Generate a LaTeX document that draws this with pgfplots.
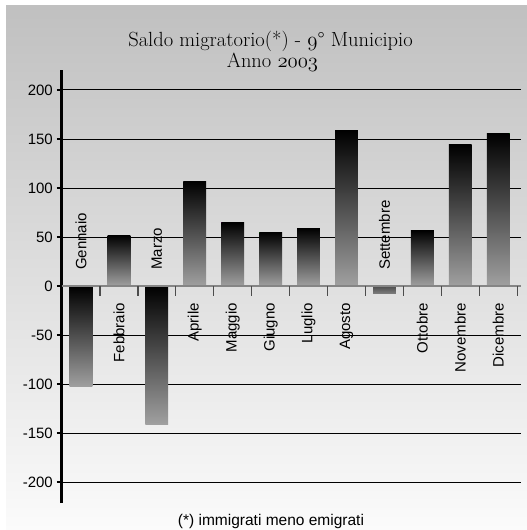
\documentclass[border=0pt]{standalone}
\usepackage{fontspec}
\usepackage{pgfplots}
\pgfplotsset{compat=1.18}
\newfontfamily\lab{Liberation Sans}
% old-style figures for the title (Georgia-like look)
\newcommand\osf[1]{{\fontencoding{OML}\fontfamily{cmm}\fontseries{m}\fontshape{it}\selectfont #1}}
\definecolor{bgtop}{HTML}{C0C0C0}
\definecolor{bgbot}{HTML}{FBFBFB}
\definecolor{barbot}{HTML}{A0A0A0}
\definecolor{zeroline}{HTML}{858585}
\newcommand\labfont{\lab\fontsize{15}{18}\selectfont}
\newcommand\titlefont{\fontsize{20.5}{24}\selectfont\addfontfeature{FakeBold=0.4}}

\begin{document}
\begin{tikzpicture}
\path[fill=white, use as bounding box] (0,0) rectangle (527pt,-530pt);
\fill[top color=bgtop, bottom color=bgbot] (6pt,-5pt) rectangle (527pt,-530pt);
\begin{axis}[
  at={(62pt,-70pt)}, anchor=north west,
  scale only axis, width=459pt, height=433pt,
  xmin=-0.5, xmax=11.6, ymin=-221.4, ymax=220.4,
  axis x line=none, axis y line*=left,
  y axis line style={line width=3pt, black},
  ytick={-200,-150,-100,-50,0,50,100,150,200},
  ymajorgrids, grid style={black, line width=1pt},
  tick align=outside, major tick length=5pt,
  ytick style={line width=2.5pt, black},
  yticklabel style={font=\labfont, inner sep=0pt, xshift=-4pt},
  /pgf/number format/assume math mode=true,
  ybar, bar width=0.6, bar shift=0pt,
  every axis plot/.append style={draw=none, top color=black, bottom color=barbot},
]
% one plot per month so that each bar gets its own gradient
\addplot coordinates {(0,-103)};
\addplot coordinates {(1,52)};
\addplot coordinates {(2,-141)};
\addplot coordinates {(3,107)};
\addplot coordinates {(4,65)};
\addplot coordinates {(5,55)};
\addplot coordinates {(6,59)};
\addplot coordinates {(7,159)};
\addplot[top color=black!70, bottom color=black!50] coordinates {(8,-8)};
\addplot coordinates {(9,57)};
\addplot coordinates {(10,144)};
\addplot coordinates {(11,156)};

\draw[zeroline, line width=1.5pt] (axis cs:-0.5,0) -- (axis cs:11.6,0);
\pgfplotsinvokeforeach{0,...,11}{
  \draw[black!70, line width=1.3pt] (axis cs:#1+0.5,0) -- ([yshift=-10pt]axis cs:#1+0.5,0);
}

% labels above the axis for negative months
\node[rotate=90, anchor=west, inner sep=0pt, font=\labfont] at ([yshift=16pt]axis cs:0,0) {Gennaio};
\node[rotate=90, anchor=west, inner sep=0pt, font=\labfont] at ([yshift=16pt]axis cs:2,0) {Marzo};
\node[rotate=90, anchor=west, inner sep=0pt, font=\labfont] at ([yshift=16pt]axis cs:8,0) {Settembre};
% labels below the axis for positive months
\node[rotate=90, anchor=east, inner sep=0pt, font=\labfont] at ([yshift=-17pt]axis cs:1,0) {Febbraio};
\node[rotate=90, anchor=east, inner sep=0pt, font=\labfont] at ([yshift=-17pt]axis cs:3,0) {Aprile};
\node[rotate=90, anchor=east, inner sep=0pt, font=\labfont] at ([yshift=-17pt]axis cs:4,0) {Maggio};
\node[rotate=90, anchor=east, inner sep=0pt, font=\labfont] at ([yshift=-17pt]axis cs:5,0) {Giugno};
\node[rotate=90, anchor=east, inner sep=0pt, font=\labfont] at ([yshift=-17pt]axis cs:6,0) {Luglio};
\node[rotate=90, anchor=east, inner sep=0pt, font=\labfont] at ([yshift=-17pt]axis cs:7,0) {Agosto};
\node[rotate=90, anchor=east, inner sep=0pt, font=\labfont] at ([yshift=-17pt]axis cs:9,0) {Ottobre};
\node[rotate=90, anchor=east, inner sep=0pt, font=\labfont] at ([yshift=-17pt]axis cs:10,0) {Novembre};
\node[rotate=90, anchor=east, inner sep=0pt, font=\labfont] at ([yshift=-17pt]axis cs:11,0) {Dicembre};
\end{axis}

\node[anchor=base, font=\titlefont] at (270.5pt,-46.7pt) {Saldo migratorio(*) - \osf{9}° Municipio};
\node[anchor=base, font=\titlefont] at (272.5pt,-67.7pt) {Anno \osf{2003}};
\node[anchor=base, font=\lab\fontsize{15.5}{18}\selectfont] at (271pt,-525pt) {(*) immigrati meno emigrati};
\end{tikzpicture}
\end{document}
